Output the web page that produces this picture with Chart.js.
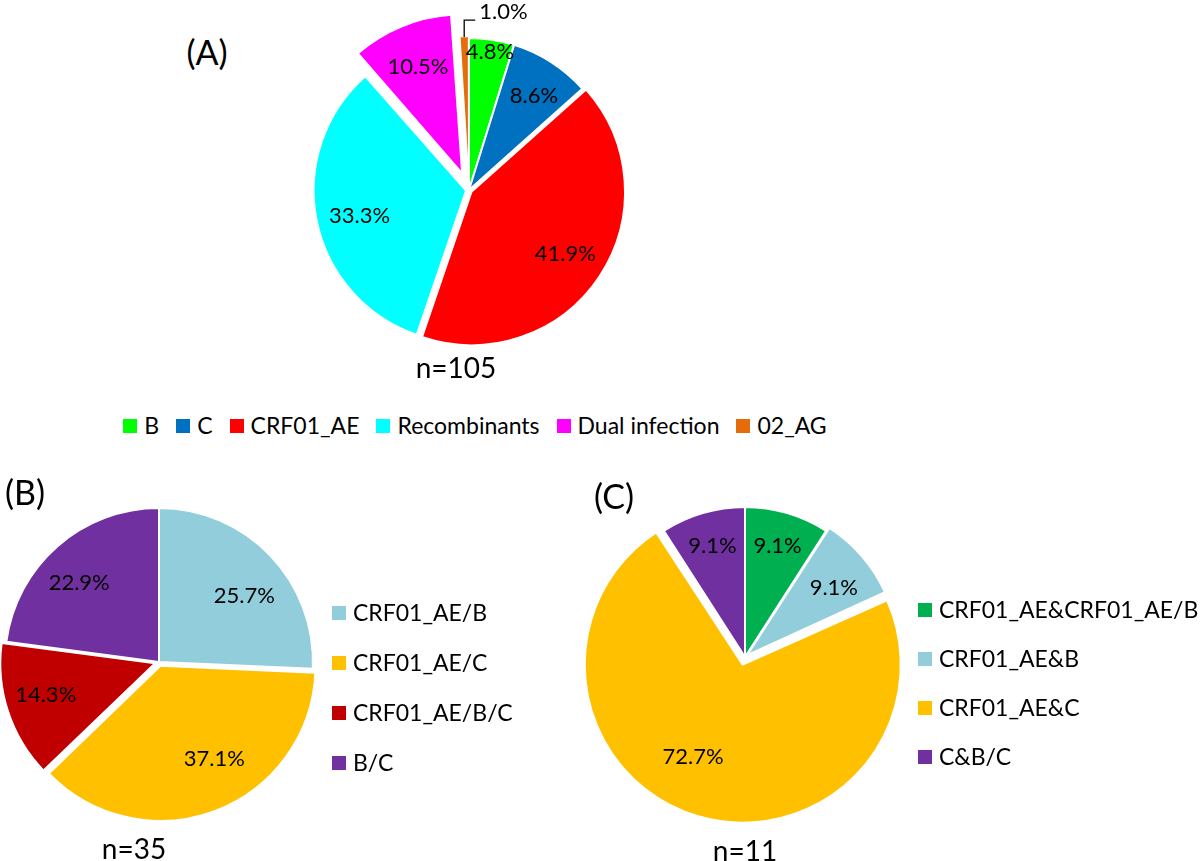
<!DOCTYPE html>
<html>
<head>
<meta charset="utf-8">
<script src="https://cdn.jsdelivr.net/npm/chart.js@4.4.1/dist/chart.umd.min.js"></script>
<style>
  body { margin: 0; width: 1200px; height: 861px; overflow: hidden; background: #fff; font-family: Lato, "Open Sans", sans-serif; color: #000; position: relative; }
  canvas { position: absolute; }
  .txt { position: absolute; transform: translate(-50%, -50%); white-space: nowrap; line-height: 1; }
  .panel { font-size: 34px; }
  .n { font-size: 28px; }
  .legend { position: absolute; font-size: 23px; line-height: 1; display: flex; }
  .item { display: flex; align-items: center; white-space: nowrap; height: 23px; }
  .sw { width: 14px; height: 14px; margin-right: 7px; flex: none; }
</style>
</head>
<body>
<canvas id="pieA" width="400" height="400" style="left:269px;top:-10px"></canvas>
<canvas id="pieB" width="360" height="360" style="left:-21px;top:482px"></canvas>
<canvas id="pieC" width="360" height="360" style="left:565px;top:477px"></canvas>

<div class="txt panel" style="left:207px;top:52px">(A)</div>
<div class="txt panel" style="left:25px;top:492px">(B)</div>
<div class="txt panel" style="left:614px;top:496px">(C)</div>
<div class="txt n" id="nA" style="left:456px;top:367px"></div>
<div class="txt n" id="nB" style="left:134px;top:848px"></div>
<div class="txt n" id="nC" style="left:745px;top:850px"></div>

<div class="legend" id="legA" style="left:0;top:414px;width:950px;justify-content:center"></div>
<div class="legend" id="legB" style="left:332px;top:601px;flex-direction:column;gap:27px"></div>
<div class="legend" id="legC" style="left:918px;top:598px;flex-direction:column;gap:26px"></div>

<script>
// (A) HIV-1 subtypes, n=105
const subtypeLabels = ['B', 'C', 'CRF01_AE', 'Recombinants', 'Dual infection', '02_AG'];
const subtypePct = [4.8, 8.6, 41.9, 33.3, 10.5, 1.0];
const subtypeColors = ['#00ff00', '#0070c0', '#ff0000', '#00ffff', '#ff00ff', '#e46c0a'];

// (B) recombinants, n=35
const recombLabels = ['CRF01_AE/B', 'CRF01_AE/C', 'CRF01_AE/B/C', 'B/C'];
const recombPct = [25.7, 37.1, 14.3, 22.9];
const recombColors = ['#92cddc', '#ffc000', '#c00000', '#7030a0'];

// (C) dual infections, n=11
const dualLabels = ['CRF01_AE&CRF01_AE/B', 'CRF01_AE&B', 'CRF01_AE&C', 'C&B/C'];
const dualPct = [9.1, 9.1, 72.7, 9.1];
const dualColors = ['#00b050', '#92cddc', '#ffc000', '#7030a0'];

const sampleSizes = [105, 35, 11];

// chart.js v4 moves an arc by offset/4 px, so the explode distances below are scaled by 4
const EXPLODE = 4;

// percentage labels inside the slices (one can go outside with a leader line)
const sliceLabels = {
  id: 'sliceLabels',
  afterDatasetsDraw(chart, args, opts) {
    const ctx = chart.ctx;
    const meta = chart.getDatasetMeta(0);
    const data = chart.data.datasets[0].data;
    ctx.save();
    ctx.font = '22px Lato, "Open Sans", sans-serif';
    ctx.fillStyle = '#000';
    ctx.strokeStyle = '#000';
    meta.data.forEach((arc, i) => {
      const p = arc.getProps(['x', 'y', 'startAngle', 'endAngle', 'outerRadius'], true);
      const off = (arc.options.offset || 0) / EXPLODE;
      const txt = data[i].toFixed(1) + '%';
      let mid = (p.startAngle + p.endAngle) / 2;
      if (opts.outside === i) {
        const px = p.x + Math.cos(mid) * (p.outerRadius + off);
        const py = p.y + Math.sin(mid) * (p.outerRadius + off);
        const ly = py - 17;
        ctx.lineWidth = 1.3;
        ctx.beginPath();
        ctx.moveTo(px, py);
        ctx.lineTo(px, ly);
        ctx.lineTo(px + 11, ly);
        ctx.stroke();
        ctx.textAlign = 'left';
        ctx.textBaseline = 'alphabetic';
        ctx.fillText(txt, px + 15, ly - 1);
        return;
      }
      mid += (opts.shift[i] || 0) * Math.PI / 180;
      const d = p.outerRadius * opts.dist[i] + off;
      ctx.textAlign = 'center';
      ctx.textBaseline = 'middle';
      ctx.fillText(txt, p.x + Math.cos(mid) * d, p.y + Math.sin(mid) * d);
    });
    ctx.restore();
  }
};

function makePie(id, labels, values, colors, explode, radius, labelOpts) {
  return new Chart(document.getElementById(id), {
    type: 'pie',
    data: {
      labels: labels,
      datasets: [{
        data: values,
        backgroundColor: colors,
        borderColor: '#ffffff',
        borderWidth: 2,
        offset: explode.map(v => v * EXPLODE)
      }]
    },
    options: {
      responsive: false,
      animation: false,
      events: [],
      radius: radius,
      layout: { padding: 0 },
      plugins: {
        legend: { display: false },
        tooltip: { enabled: false },
        sliceLabels: labelOpts
      }
    },
    plugins: [sliceLabels]
  });
}

makePie('pieA', subtypeLabels, subtypePct, subtypeColors, [0, 0, 3, 3, 18, 1], 152,
  { dist: [0.92, 0.75, 0.74, 0.72, 0.76, 0], shift: [0, 2, 0, -2, 0, 0], outside: 5 });
makePie('pieB', recombLabels, recombPct, recombColors, [0, 4, 4, 0], 154,
  { dist: [0.70, 0.70, 0.74, 0.73], shift: [6, -9, 2, -4] });
makePie('pieC', dualLabels, dualPct, dualColors, [0, 3, 8, 0], 150,
  { dist: [0.77, 0.73, 0.70, 0.77], shift: [0, 3, 11, 0] });

// legends and sample sizes
function buildLegend(id, labels, colors, itemGap) {
  const box = document.getElementById(id);
  labels.forEach((lab, i) => {
    const item = document.createElement('div');
    item.className = 'item';
    if (itemGap && i < labels.length - 1) item.style.marginRight = itemGap + 'px';
    const sw = document.createElement('span');
    sw.className = 'sw';
    sw.style.background = colors[i];
    item.appendChild(sw);
    item.appendChild(document.createTextNode(lab));
    box.appendChild(item);
  });
}
buildLegend('legA', subtypeLabels, subtypeColors, 17);
buildLegend('legB', recombLabels, recombColors);
buildLegend('legC', dualLabels, dualColors);

document.getElementById('nA').textContent = 'n=' + sampleSizes[0];
document.getElementById('nB').textContent = 'n=' + sampleSizes[1];
document.getElementById('nC').textContent = 'n=' + sampleSizes[2];
</script>
</body>
</html>
